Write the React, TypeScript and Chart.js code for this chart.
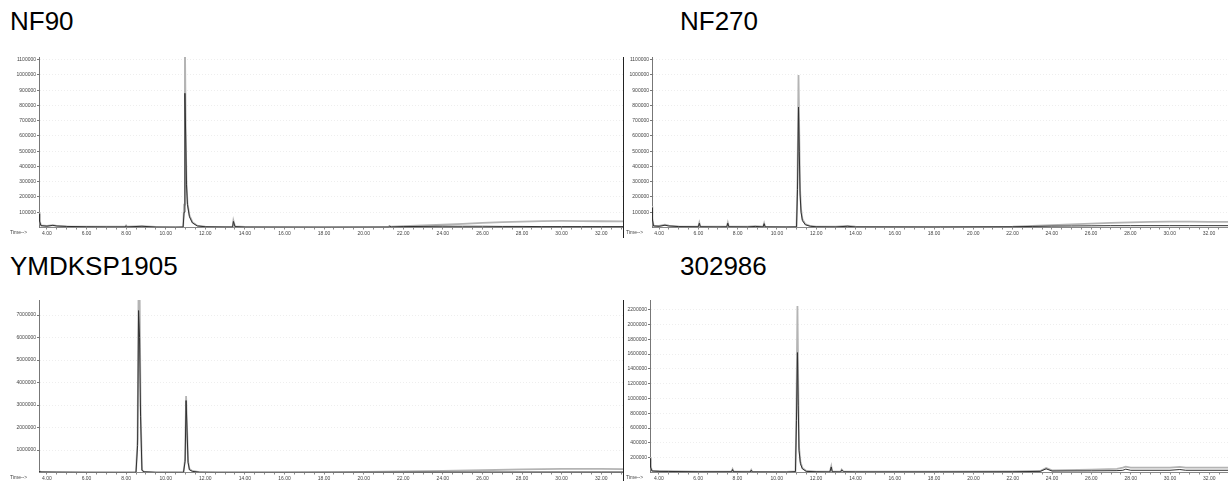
import React, { useEffect, useRef } from "react";
import { Chart, registerables } from "chart.js";
Chart.register(...registerables);

// ---------- tick labels ----------
const X_TICK_LABELS = [4, 6, 8, 10, 12, 14, 16, 18, 20, 22, 24, 26, 28, 30, 32];
const Y_TICKS_NF = [100000, 200000, 300000, 400000, 500000, 600000, 700000, 800000, 900000, 1000000, 1100000];
const Y_TICKS_YMD = [1000000, 2000000, 3000000, 4000000, 5000000, 6000000, 7000000];
const Y_TICKS_302 = [200000, 400000, 600000, 800000, 1000000, 1200000, 1400000, 1600000, 1800000, 2000000, 2200000];

// ---------- NF90 ----------
const NF90_TIME = [3.6, 3.63, 3.7, 4.0, 4.3, 4.5, 5.0, 6.0, 7.0, 7.95, 8.0, 8.05, 8.8, 9.5, 10.5, 10.88, 10.93, 10.97, 11.01, 11.05, 11.1, 11.2, 11.35, 11.6, 12.0, 13.0, 13.38, 13.42, 13.5, 14.0, 18.0, 21.25, 21.3, 21.4, 22.0, 23.0, 24.0, 25.0, 26.0, 27.0, 28.0, 29.0, 30.0, 31.0, 32.0, 33.1];
const NF90_GRAY = [100000, 45000, 14000, 10000, 16000, 11000, 8000, 6000, 5000, 5000, 13000, 5000, 9000, 4000, 3000, 4000, 150000, 1250000, 650000, 300000, 160000, 80000, 35000, 12000, 6000, 4000, 4000, 45000, 8000, 4000, 3000, 4000, 10000, 5000, 9000, 13000, 18000, 24000, 30000, 35000, 39000, 42000, 43000, 42000, 41000, 40000];
const NF90_BLACK = [90000, 40000, 12000, 9000, 14000, 10000, 7000, 5000, 4000, 4000, 11000, 4000, 8000, 3000, 2000, 3000, 100000, 880000, 600000, 280000, 150000, 70000, 30000, 10000, 5000, 3000, 3000, 40000, 6000, 3000, 2000, 3000, 8000, 4000, 6000, 7000, 8000, 8000, 8000, 7000, 7000, 6000, 6000, 6000, 6000, 6000];

// ---------- NF270 ----------
const NF270_TIME = [3.64, 3.66, 3.72, 4.0, 4.3, 4.5, 5.0, 6.0, 6.05, 6.1, 7.0, 7.45, 7.5, 7.55, 8.5, 8.9, 9.3, 9.35, 9.4, 10.5, 11.0, 11.05, 11.1, 11.14, 11.18, 11.23, 11.3, 11.45, 11.7, 12.0, 13.0, 13.6, 14.0, 18.0, 22.0, 23.0, 24.0, 25.0, 26.0, 27.0, 28.0, 29.0, 30.0, 31.0, 32.0, 33.0];
const NF270_GRAY = [140000, 60000, 12000, 10000, 18000, 12000, 8000, 6000, 32000, 6000, 5000, 6000, 32000, 6000, 5000, 9000, 5000, 28000, 5000, 4000, 5000, 330000, 1000000, 600000, 250000, 120000, 55000, 22000, 10000, 6000, 5000, 10000, 5000, 4000, 6000, 10000, 15000, 20000, 25000, 30000, 34000, 37000, 38000, 38000, 37000, 37000];
const NF270_BLACK = [130000, 50000, 10000, 8000, 15000, 10000, 6000, 5000, 28000, 5000, 4000, 5000, 28000, 5000, 4000, 7000, 4000, 25000, 4000, 3000, 4000, 250000, 790000, 500000, 220000, 100000, 45000, 18000, 8000, 5000, 4000, 8000, 4000, 3000, 5000, 7000, 9000, 10000, 11000, 12000, 12000, 12000, 12000, 12000, 12000, 12000];

// ---------- YMDKSP1905 ----------
const YMD_TIME = [3.6, 3.7, 4.5, 6.0, 8.0, 8.5, 8.58, 8.63, 8.68, 8.73, 8.8, 8.9, 9.5, 10.9, 10.98, 11.03, 11.08, 11.13, 11.2, 11.35, 11.7, 12.5, 16.0, 18.5, 20.0, 22.0, 24.0, 26.0, 28.0, 30.0, 32.0, 33.1];
const YMD_GRAY = [60000, 30000, 20000, 10000, 8000, 10000, 1500000, 8300000, 8300000, 3000000, 120000, 40000, 10000, 10000, 600000, 3400000, 2000000, 500000, 150000, 70000, 20000, 10000, 10000, 20000, 30000, 50000, 70000, 100000, 140000, 160000, 160000, 150000];
const YMD_BLACK = [50000, 25000, 15000, 8000, 6000, 8000, 1200000, 7200000, 6000000, 2500000, 100000, 30000, 8000, 8000, 500000, 3200000, 1800000, 450000, 120000, 50000, 15000, 8000, 8000, 10000, 12000, 15000, 18000, 20000, 22000, 22000, 22000, 22000];

// ---------- 302986 ----------
const S302_TIME = [3.55, 3.58, 3.65, 4.0, 4.5, 6.0, 7.7, 7.75, 7.8, 8.65, 8.7, 8.75, 10.5, 10.95, 11.0, 11.05, 11.09, 11.13, 11.2, 11.3, 11.5, 12.0, 12.7, 12.77, 12.82, 13.25, 13.3, 13.4, 14.0, 18.0, 22.0, 23.4, 23.7, 24.0, 26.0, 27.3, 27.6, 27.75, 28.0, 30.0, 30.5, 30.8, 33.0];
const S302_GRAY = [210000, 80000, 25000, 20000, 18000, 12000, 12000, 45000, 12000, 10000, 35000, 10000, 8000, 15000, 900000, 2250000, 1200000, 350000, 150000, 60000, 20000, 12000, 10000, 85000, 12000, 10000, 40000, 12000, 10000, 10000, 15000, 20000, 60000, 30000, 40000, 50000, 65000, 80000, 65000, 65000, 75000, 65000, 65000];
const S302_BLACK = [190000, 70000, 20000, 15000, 14000, 10000, 10000, 40000, 10000, 8000, 30000, 8000, 6000, 12000, 700000, 1620000, 900000, 300000, 120000, 50000, 15000, 10000, 8000, 75000, 10000, 8000, 35000, 10000, 8000, 8000, 10000, 15000, 50000, 20000, 22000, 25000, 30000, 45000, 30000, 30000, 40000, 30000, 30000];

const TITLES = ["NF90", "NF270", "YMDKSP1905", "302986"];

type PanelProps = {
  left: number;
  top: number;
  width: number;
  height: number;
  yWidth: number;
  padTop: number;
  padRight: number;
  xHeight: number;
  xMin: number;
  xMax: number;
  yMax: number;
  yTicks: number[];
  time: number[];
  gray: number[];
  black: number[];
  timeLabelX: number;
};

function Panel(p: PanelProps) {
  const ref = useRef<HTMLCanvasElement>(null);
  useEffect(() => {
    const minor: number[] = [];
    for (let v = 4; v <= Math.floor(p.xMax * 2) / 2 + 1e-9; v += 0.5) minor.push(v);
    const timePlugin = {
      id: "timeLabel",
      afterDraw(chart: any) {
        const ctx = chart.ctx;
        ctx.save();
        ctx.font = "5px Arial";
        ctx.fillStyle = "#444";
        ctx.textBaseline = "middle";
        ctx.fillText("Time-->", p.timeLabelX, chart.chartArea.bottom + 5.5);
        ctx.restore();
      },
    };
    const chart = new Chart(ref.current as HTMLCanvasElement, {
      type: "line",
      data: {
        datasets: [
          {
            // dark trace (index 0 is drawn on top)
            data: p.time.map((t, i) => ({ x: t, y: p.black[i] })),
            borderColor: "#303030",
            borderWidth: 1,
            pointRadius: 0,
            tension: 0,
          },
          {
            data: p.time.map((t, i) => ({ x: t, y: p.gray[i] })),
            borderColor: "#b4b4b4",
            borderWidth: 1.8,
            pointRadius: 0,
            tension: 0,
          },
        ],
      },
      options: {
        animation: false,
        responsive: false,
        maintainAspectRatio: false,
        layout: { padding: { top: p.padTop, right: p.padRight, left: 0, bottom: 0 } },
        plugins: { legend: { display: false }, tooltip: { enabled: false } },
        scales: {
          x: {
            type: "linear",
            min: p.xMin,
            max: p.xMax,
            afterBuildTicks: (s: any) => {
              s.ticks = minor.map((v) => ({ value: v }));
            },
            afterFit: (s: any) => {
              s.height = p.xHeight;
            },
            ticks: {
              autoSkip: false,
              maxRotation: 0,
              padding: 1,
              font: { size: 5, family: "Arial" },
              color: "#444",
              callback: (v: any) => (X_TICK_LABELS.includes(Number(v)) ? Number(v).toFixed(2) : ""),
            },
            grid: { drawOnChartArea: false, tickLength: 2, color: "#888", tickColor: "#888" },
            border: { color: "#888" },
          },
          y: {
            min: 0,
            max: p.yMax,
            afterBuildTicks: (s: any) => {
              s.ticks = p.yTicks.map((v) => ({ value: v }));
            },
            afterFit: (s: any) => {
              s.width = p.yWidth;
            },
            ticks: {
              padding: 1,
              font: { size: 5, family: "Arial" },
              color: "#444",
              callback: (v: any) => String(v),
            },
            grid: { color: "#eeeeee", tickColor: "#777", tickLength: 2 },
            border: { color: "#777", dash: [1, 2] },
          },
        },
      },
      plugins: [timePlugin],
    } as any);
    return () => chart.destroy();
  }, []);
  return (
    <canvas
      ref={ref}
      width={p.width}
      height={p.height}
      style={{ position: "absolute", left: p.left, top: p.top, width: p.width, height: p.height }}
    />
  );
}

const titleStyle = (left: number, top: number): React.CSSProperties => ({
  position: "absolute",
  left,
  top,
  fontFamily: "'Liberation Sans', Arial, sans-serif",
  fontSize: 26,
  lineHeight: "26px",
  color: "#000",
  whiteSpace: "nowrap",
});

export default function App() {
  return (
    <div style={{ position: "fixed", left: 0, top: 0, width: 1228, height: 481, background: "#fff", overflow: "hidden" }}>
      <div style={titleStyle(10, 8)}>{TITLES[0]}</div>
      <div style={titleStyle(680, 8)}>{TITLES[1]}</div>
      <div style={titleStyle(10, 253)}>{TITLES[2]}</div>
      <div style={titleStyle(680, 253)}>{TITLES[3]}</div>

      <Panel left={0} top={40} width={624} height={200} yWidth={39} padTop={17} padRight={1} xHeight={12.5}
        xMin={3.6} xMax={33.1} yMax={1118000} yTicks={Y_TICKS_NF}
        time={NF90_TIME} gray={NF90_GRAY} black={NF90_BLACK} timeLabelX={10} />
      <Panel left={624} top={40} width={604} height={200} yWidth={28} padTop={17} padRight={0} xHeight={12.5}
        xMin={3.64} xMax={32.97} yMax={1118000} yTicks={Y_TICKS_NF}
        time={NF270_TIME} gray={NF270_GRAY} black={NF270_BLACK} timeLabelX={2} />
      <Panel left={0} top={288} width={624} height={193} yWidth={39} padTop={12} padRight={1} xHeight={8.5}
        xMin={3.6} xMax={33.1} yMax={7670000} yTicks={Y_TICKS_YMD}
        time={YMD_TIME} gray={YMD_GRAY} black={YMD_BLACK} timeLabelX={10} />
      <Panel left={624} top={288} width={604} height={193} yWidth={26} padTop={12} padRight={0} xHeight={8.5}
        xMin={3.55} xMax={32.95} yMax={2330000} yTicks={Y_TICKS_302}
        time={S302_TIME} gray={S302_GRAY} black={S302_BLACK} timeLabelX={2} />

      <div style={{ position: "absolute", left: 623, top: 57, width: 1, height: 181, background: "#222" }} />
      <div style={{ position: "absolute", left: 623, top: 300, width: 1, height: 181, background: "#222" }} />
    </div>
  );
}
